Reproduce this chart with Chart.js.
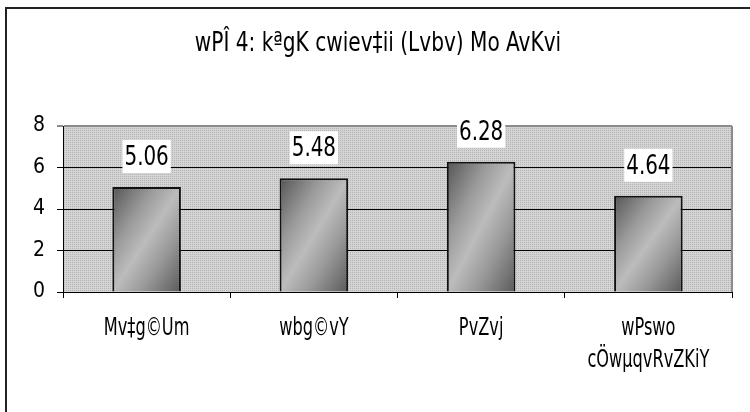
<!DOCTYPE html>
<html>
<head>
<meta charset="utf-8">
<script src="https://cdn.jsdelivr.net/npm/chart.js@4/dist/chart.umd.min.js"></script>
<style>
  body { margin: 0; background: #fff; }
  #frame { position: absolute; left: 5px; top: 7px; width: 800px; height: 500px; border: 2px solid #222; }
  #wrap { position: absolute; left: 0; top: 0; width: 750px; height: 412px; }
</style>
</head>
<body>
<div id="frame"></div>
<div id="wrap"><canvas id="bar"></canvas></div>
<script>
// data
const titleText = 'wPÎ 4: kªgK cwiev‡ii (Lvbv) Mo AvKvi';
const categories = [['Mv‡g©Um'], ['wbg©vY'], ['PvZvj'], ['wPswo', 'cÖwµqvRvZKiY']];
const values = [5.06, 5.48, 6.28, 4.64];
const yTicks = [0, 2, 4, 6, 8];

const FONT = "'DejaVu Sans Condensed', 'DejaVu Sans', sans-serif";

// dotted grey fill for the plot area
function makePattern(ctx) {
    let c = document.createElement('canvas');
    c.width = 2; c.height = 2;
    let p = c.getContext('2d');
    p.fillStyle = '#d4d4d4';
    p.fillRect(0, 0, 2, 2);
    p.fillStyle = '#b4b4b4';
    p.fillRect(0, 0, 1, 1);
    return ctx.createPattern(c, 'repeat');
}

function barFill(ctx) {
    let chart = ctx.chart;
    let xs = chart.scales.x, ys = chart.scales.y;
    if (!xs || !ys || ctx.dataIndex === undefined) return '#999';
    let cx = xs.getPixelForValue(ctx.dataIndex);
    let top = ys.getPixelForValue(values[ctx.dataIndex]);
    let bottom = ys.getPixelForValue(0);
    let w = xs.width / categories.length * 0.41;
    let h = bottom - top;
    if (!isFinite(cx) || !isFinite(h) || h <= 0) return '#999';
    let cy = (top + bottom) / 2;
    // diagonal gradient, bands parallel to the bottom-left / top-right diagonal
    let k = (w * h) / (h * h + w * w);
    let dx = h * k, dy = w * k;
    let g = chart.ctx.createLinearGradient(cx - dx, cy - dy, cx + dx, cy + dy);
    g.addColorStop(0, '#555');
    g.addColorStop(0.3, '#9a9a9a');
    g.addColorStop(0.5, '#bcbcbc');
    g.addColorStop(0.7, '#9a9a9a');
    g.addColorStop(1, '#5a5a5a');
    return g;
}

// text drawn narrow like the original
function narrowText(c, txt, x, y, sx) {
    c.save();
    c.translate(x, y);
    c.scale(sx, 1);
    c.fillText(txt, 0, 0);
    c.restore();
}

const plotBg = {
    id: 'plotBg',
    beforeDraw(chart) {
        let a = chart.chartArea, c = chart.ctx;
        c.save();
        c.fillStyle = makePattern(c);
        c.fillRect(a.left, a.top, a.right - a.left, a.bottom - a.top);
        c.restore();
    },
    beforeDatasetsDraw(chart) {
        let a = chart.chartArea, c = chart.ctx;
        c.save();
        c.strokeStyle = '#8c8c8c';
        c.lineWidth = 2;
        c.beginPath();
        c.moveTo(a.right, a.top);
        c.lineTo(a.right, a.bottom);
        c.stroke();
        c.restore();
    },
    afterDraw(chart) {
        let c = chart.ctx;
        c.save();
        c.fillStyle = '#000';
        c.textAlign = 'center';
        c.textBaseline = 'alphabetic';
        c.font = '26px ' + FONT;
        narrowText(c, titleText, 378, 51, 0.86);

        // category labels, placed on the library's tick positions
        let xs = chart.scales.x;
        c.font = '25px ' + FONT;
        c.textBaseline = 'middle';
        categories.forEach(function(lines, i) {
            let x = xs.getPixelForTick(i);
            lines.forEach(function(line, j) {
                narrowText(c, line, x, xs.top + 36 + j * 32, 0.72);
            });
        });
        c.restore();
    }
};

const valueLabels = {
    id: 'valueLabels',
    afterDatasetsDraw(chart) {
        let c = chart.ctx;
        let meta = chart.getDatasetMeta(0);
        c.save();
        c.font = '27px ' + FONT;
        c.textAlign = 'center';
        c.textBaseline = 'middle';
        meta.data.forEach(function(bar, i) {
            let txt = values[i].toFixed(2);
            let w = c.measureText(txt).width * 0.82 + 4;
            let bottom = bar.y - 14;
            c.fillStyle = '#fff';
            c.fillRect(bar.x - w / 2, bottom - 33, w, 33);
            c.fillStyle = '#000';
            narrowText(c, txt, bar.x, bottom - 15, 0.82);
        });
        c.restore();
    }
};

new Chart(document.getElementById('bar'), {
    type: 'bar',
    data: {
        labels: categories,
        datasets: [{
            data: values,
            backgroundColor: barFill,
            borderColor: '#111',
            borderWidth: 2,
            barPercentage: 0.41,
            categoryPercentage: 1
        }]
    },
    options: {
        responsive: true,
        maintainAspectRatio: false,
        animation: false,
        layout: { padding: { top: 126, right: 18, left: 0, bottom: 0 } },
        plugins: { legend: { display: false }, title: { display: false }, tooltip: { enabled: false } },
        scales: {
            x: {
                afterFit(s) { s.height = 120; },
                grid: { drawOnChartArea: false, tickLength: 6, color: '#000', lineWidth: 1 },
                border: { color: '#000', width: 1 },
                ticks: { color: 'rgba(0,0,0,0)', padding: 18, maxRotation: 0, autoSkip: false,
                         font: { family: FONT, size: 23, lineHeight: 1.4 } }
            },
            y: {
                min: 0,
                max: 8,
                afterFit(s) { s.width = 63; },
                afterBuildTicks(s) { s.ticks = yTicks.map(v => ({ value: v })); },
                grid: {
                    tickLength: 6,
                    color: (c) => c.tick && c.tick.value === 8 ? '#8c8c8c' : '#000',
                    lineWidth: (c) => c.tick && c.tick.value === 8 ? 2 : 1
                },
                border: { color: '#000', width: 1 },
                ticks: { color: '#000', padding: 12, font: { family: FONT, size: 21 } }
            }
        }
    },
    plugins: [plotBg, valueLabels]
});
</script>
</body>
</html>
